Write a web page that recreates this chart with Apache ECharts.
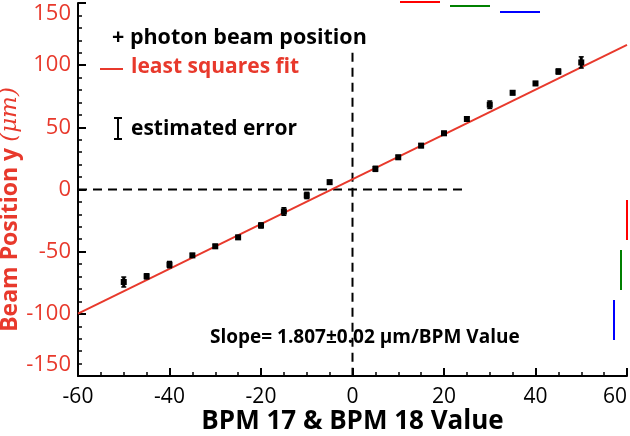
<!DOCTYPE html>
<html>
<head>
<meta charset="utf-8">
<script src="https://cdn.jsdelivr.net/npm/echarts@6/dist/echarts.min.js"></script>
<style>
    html, body { margin: 0; padding: 0; background: #fff; }
    #myChart { width: 630px; height: 436px; }
</style>
</head>
<body>
<div id="myChart"></div>
<script>
    // measured beam positions
    const bpmValues = [-50, -45, -40, -35, -30, -25, -20, -15, -10, -5, 5, 10, 15, 20, 25, 30, 35, 40, 45, 50]
    const beamPos = [-74.4, -69.8, -60.4, -53, -45.7, -38.5, -28.9, -17.7, -4.8, 5.9, 16.6, 25.9, 35.3, 45.2, 56.7, 68.2, 77.8, 85.3, 94.9, 102.2]
    const beamErr = [4, 2, 2.5, 1.5, 1.5, 1.5, 2, 3, 2.5, 1.5, 2, 1.5, 1.5, 1.5, 1.5, 3, 1.5, 1.5, 2, 4.5]

    // least squares fit end points
    const fitX = [-60, 60]
    const fitY = [-99.8, 116.4]

    // dashed guide lines
    const hGuideX = [-60, 25]
    const hGuideY = [0, 0]
    const vGuideX = [0, 0]
    const vGuideY = [110, -150]

    const red = '#e8392c'
    const font = '"Open Sans"'

    let chart = echarts.init(document.getElementById('myChart'))

    chart.setOption({
        backgroundColor: '#fff',
        animation: false,
        grid: { left: 78, right: 3, top: 3, bottom: 60, containLabel: false, outerBoundsMode: 'none' },
        xAxis: {
            type: 'value', min: -60, max: 60, interval: 20,
            axisLine: { show: true, onZero: false, lineStyle: { color: '#000', width: 2 } },
            axisTick: { show: true, inside: true, length: 8, lineStyle: { color: '#000', width: 2 } },
            minorTick: { show: true, splitNumber: 4, length: 4, lineStyle: { color: '#000', width: 1.5 } },
            splitLine: { show: false },
            axisLabel: { color: '#000', fontSize: 21, fontFamily: font, margin: 11, alignMaxLabel: 'right' },
            name: 'BPM 17 & BPM 18 Value', nameLocation: 'middle', nameGap: 33, nameMoveOverlap: false,
            nameTextStyle: { color: '#000', fontSize: 26, fontWeight: 'bold', fontFamily: font }
        },
        yAxis: {
            type: 'value', min: -150, max: 150, interval: 50,
            axisLine: { show: true, onZero: false, lineStyle: { color: '#000', width: 2 } },
            axisTick: { show: true, inside: true, length: 8, lineStyle: { color: '#000', width: 2 } },
            minorTick: { show: true, splitNumber: 5, length: 4, lineStyle: { color: '#000', width: 1.5 } },
            splitLine: { show: false },
            axisLabel: {
                color: red, fontSize: 22, fontFamily: font, margin: 7,
                verticalAlignMaxLabel: 'top', verticalAlignMinLabel: 'bottom'
            },
            name: '{a|Beam Position y }{b|(μm)}', nameLocation: 'middle', nameGap: 56, nameRotate: 90,
            nameMoveOverlap: false,
            nameTextStyle: {
                padding: [0, 40, 0, 0],
                rich: {
                    a: { color: red, fontSize: 23, fontWeight: 'bold', fontFamily: font },
                    b: { color: red, fontSize: 23, fontStyle: 'italic', fontFamily: 'DejaVu Serif' }
                }
            }
        },
        graphic: [
            // debug probes near the top and right edges
            { type: 'line', shape: { x1: 400, y1: 2, x2: 440, y2: 2 }, style: { stroke: 'red', lineWidth: 2 } },
            { type: 'line', shape: { x1: 450, y1: 6, x2: 490, y2: 6 }, style: { stroke: 'green', lineWidth: 2 } },
            { type: 'line', shape: { x1: 500, y1: 12, x2: 540, y2: 12 }, style: { stroke: 'blue', lineWidth: 2 } },
            { type: 'line', shape: { x1: 627, y1: 200, x2: 627, y2: 240 }, style: { stroke: 'red', lineWidth: 2 } },
            { type: 'line', shape: { x1: 621, y1: 250, x2: 621, y2: 290 }, style: { stroke: 'green', lineWidth: 2 } },
            { type: 'line', shape: { x1: 614, y1: 300, x2: 614, y2: 340 }, style: { stroke: 'blue', lineWidth: 2 } },
            { type: 'text', left: 112, top: 27, style: { text: '+ photon beam position', fill: '#000', font: 'bold 21.5px "Open Sans"' } },
            { type: 'line', shape: { x1: 100, y1: 69, x2: 123, y2: 69 }, style: { stroke: red, lineWidth: 2 } },
            { type: 'text', left: 131, top: 57, style: { text: 'least squares fit', fill: red, font: 'bold 21px "Open Sans"' } },
            { type: 'line', shape: { x1: 118, y1: 118, x2: 118, y2: 139 }, style: { stroke: '#000', lineWidth: 2 } },
            { type: 'line', shape: { x1: 114, y1: 118, x2: 122, y2: 118 }, style: { stroke: '#000', lineWidth: 2 } },
            { type: 'line', shape: { x1: 114, y1: 139, x2: 122, y2: 139 }, style: { stroke: '#000', lineWidth: 2 } },
            { type: 'text', left: 131, top: 119, style: { text: 'estimated error', fill: '#000', font: 'bold 21px "Open Sans"' } },
            { type: 'text', left: 210, top: 328, style: { text: 'Slope= 1.807±0.02 μm/BPM Value', fill: '#000', font: 'bold 19px "Open Sans"' } }
        ],
        series: [
            {
                type: 'line', data: hGuideX.map((x, i) => [x, hGuideY[i]]), symbol: 'none',
                lineStyle: { color: '#000', width: 2, type: [9, 6] }, z: 2
            },
            {
                type: 'line', data: vGuideX.map((x, i) => [x, vGuideY[i]]), symbol: 'none',
                lineStyle: { color: '#000', width: 2, type: [9, 6] }, z: 2
            },
            {
                type: 'line', data: fitX.map((x, i) => [x, fitY[i]]), symbol: 'none',
                lineStyle: { color: red, width: 2 }, z: 3
            },
            {
                type: 'custom', z: 4,
                data: bpmValues.map((x, i) => [x, beamPos[i], beamErr[i]]),
                renderItem: function (params, api) {
                    let x = api.value(0), y = api.value(1), e = api.value(2)
                    let top = api.coord([x, y + e])
                    let bot = api.coord([x, y - e])
                    let mid = api.coord([x, y])
                    return {
                        type: 'group',
                        children: [
                            { type: 'line', shape: { x1: top[0], y1: top[1], x2: bot[0], y2: bot[1] }, style: { stroke: '#000', lineWidth: 3 } },
                            { type: 'line', shape: { x1: top[0] - 2.5, y1: top[1], x2: top[0] + 2.5, y2: top[1] }, style: { stroke: '#000', lineWidth: 1.5 } },
                            { type: 'line', shape: { x1: bot[0] - 2.5, y1: bot[1], x2: bot[0] + 2.5, y2: bot[1] }, style: { stroke: '#000', lineWidth: 1.5 } },
                            { type: 'rect', shape: { x: mid[0] - 3, y: mid[1] - 3, width: 6, height: 6 }, style: { fill: '#000' } }
                        ]
                    }
                }
            }
        ]
    })
</script>
</body>
</html>
